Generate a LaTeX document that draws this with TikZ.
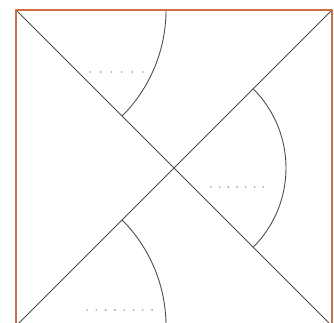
\documentclass[tikz,border=0pt]{standalone}
\usetikzlibrary{calc}
\definecolor{FrameOrange}{RGB}{204,112,66}
\definecolor{LineInk}{gray}{0.30}
\definecolor{DotBlue}{RGB}{120,170,205}
\tikzset{
    sq/diagram/.style={
        line width=0.75pt,
        line cap=round,
        line join=round
    },
    sq/frame/.style={draw=FrameOrange, line width=1.3pt},
    sq/line/.style={draw=LineInk, line width=0.8pt},
    sq/arc/.style={draw=LineInk, line width=0.75pt},
    sq/dot/.style={circle, fill=DotBlue, draw=none, inner sep=0.55pt}
}
\begin{document}
\begin{tikzpicture}[sq/diagram, x=0.03cm, y=0.03cm]
    \useasboundingbox[fill=white] (0,0) rectangle (334,322);
    \coordinate (BL) at (16,-4);
    \coordinate (BR) at (332,-4);
    \coordinate (TR) at (332,312);
    \coordinate (TL) at (16,312);
    \coordinate (O) at (174,154);
    \draw[sq/line] (TL) -- (BR);
    \draw[sq/line] (BL) -- (TR);
    % arcs round two corners and the crossing
    \draw[sq/arc] ($(TL)+(150,0)$) arc[start angle=0, end angle=-45, radius=150];
    \draw[sq/arc] ($(O)+(45:112)$) arc[start angle=45, end angle=-45, radius=112];
    \draw[sq/arc] ($(BL)+(45:150)$) arc[start angle=45, end angle=0, radius=150];
    \draw[sq/frame] (BL) rectangle (TR);
    \foreach \x in {90,100.6,...,144} {
        \node[sq/dot] at (\x,250) {};
    }
    \foreach \x in {211,219.7,...,264} {
        \node[sq/dot] at (\x,135) {};
    }
    \foreach \x in {87,96.3,...,153} {
        \node[sq/dot] at (\x,12) {};
    }
\end{tikzpicture}
\end{document}
